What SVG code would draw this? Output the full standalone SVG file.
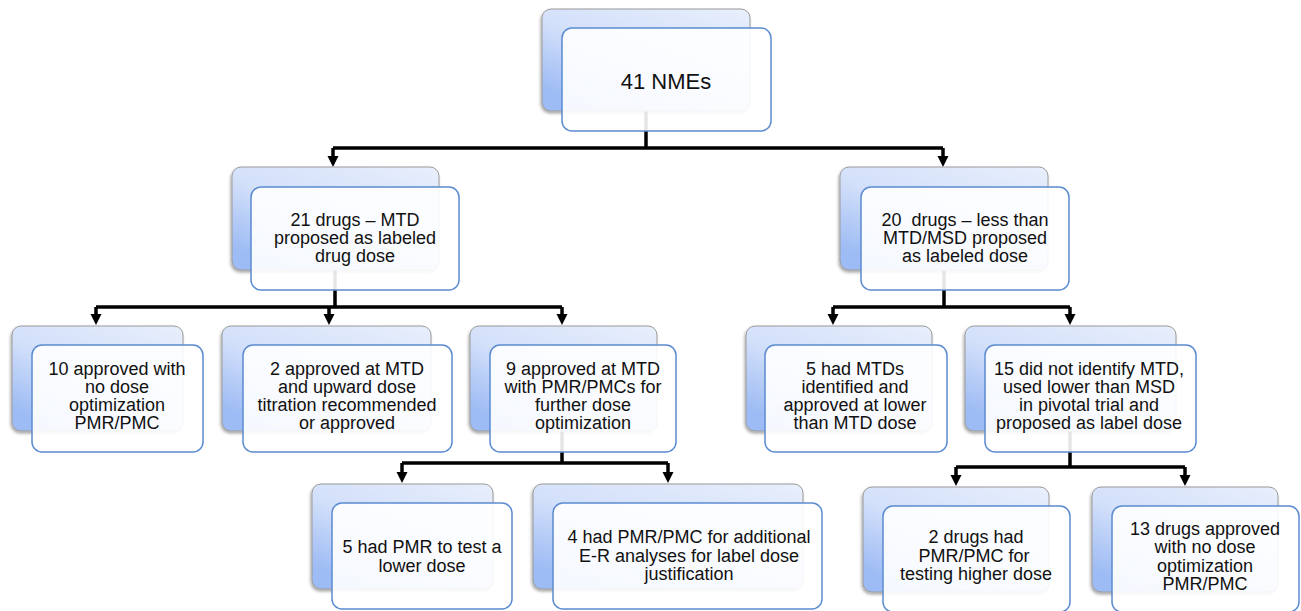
<svg xmlns="http://www.w3.org/2000/svg" width="1301" height="611" viewBox="0 0 1301 611">
<style>
.back{fill:url(#g);stroke:#9a9a9a;stroke-width:1;filter:url(#sh)}
.front{fill:#ffffff;fill-opacity:0.9;stroke:#5b8bd0;stroke-width:1.5}
.t{font-family:"Liberation Sans",Arial,sans-serif;font-size:18px;fill:#111;text-anchor:middle;white-space:pre}
.big{font-size:22px}
.c{fill:none;stroke:#000;stroke-width:3.5}
.a{fill:none;stroke:#000;stroke-width:3.5;marker-end:url(#ah)}
</style>
<defs>
<linearGradient id="g" x1="1" y1="0" x2="0.3" y2="1">
<stop offset="0" stop-color="#e8effc"/>
<stop offset="0.55" stop-color="#d3e0fa"/>
<stop offset="1" stop-color="#9dbbf4"/>
</linearGradient>
<filter id="sh" x="-10%" y="-10%" width="120%" height="130%">
<feDropShadow dx="-1" dy="2" stdDeviation="1.5" flood-color="#000" flood-opacity="0.35"/>
</filter>
<marker id="ah" markerUnits="userSpaceOnUse" markerWidth="12" markerHeight="12" viewBox="0 -6 12 12" refX="1" refY="0" orient="auto">
<path d="M0,-5.5 L11,0 L0,5.5 z" fill="#000"/>
</marker>
</defs>
<rect width="1301" height="611" fill="#fff"/>
<g id="connectors">
<path class="c" d="M646,111 V148"/>
<path class="c" d="M333,148 H943"/>
<path class="a" d="M333,148 V157"/>
<path class="a" d="M943,148 V157"/>
<path class="c" d="M335,270 V307"/>
<path class="c" d="M96,307 H562"/>
<path class="a" d="M96,307 V315"/>
<path class="a" d="M329,307 V315"/>
<path class="a" d="M562,307 V315"/>
<path class="c" d="M944,270 V307"/>
<path class="c" d="M833,307 H1070"/>
<path class="a" d="M833,307 V315"/>
<path class="a" d="M1070,307 V315"/>
<path class="c" d="M562,431 V463"/>
<path class="c" d="M402,463 H668"/>
<path class="a" d="M402,463 V473"/>
<path class="a" d="M668,463 V473"/>
<path class="c" d="M1070,431 V467"/>
<path class="c" d="M956,467 H1185"/>
<path class="a" d="M956,467 V476"/>
<path class="a" d="M1185,467 V476"/>
</g>
<g id="n1">
<rect class="back" x="542" y="9" width="208" height="102" rx="9"/>
<rect class="front" x="562" y="28" width="209" height="103" rx="10"/>
<text class="t big" x="666" y="89">41 NMEs</text>
</g>
<g id="n2">
<rect class="back" x="232" y="167" width="207" height="103" rx="9"/>
<rect class="front" x="251" y="187" width="208" height="103" rx="10"/>
<text class="t" x="355"><tspan x="355" y="226">21 drugs – MTD</tspan><tspan x="355" y="244">proposed as labeled</tspan><tspan x="355" y="262">drug dose</tspan></text>
</g>
<g id="n3">
<rect class="back" x="840" y="167" width="208" height="103" rx="9"/>
<rect class="front" x="861" y="187" width="208" height="103" rx="10"/>
<text class="t" x="965"><tspan x="965" y="226">20  drugs – less than</tspan><tspan x="965" y="244">MTD/MSD proposed</tspan><tspan x="965" y="262">as labeled dose</tspan></text>
</g>
<g id="n4">
<rect class="back" x="12" y="326" width="171" height="105" rx="9"/>
<rect class="front" x="32" y="345" width="171" height="107" rx="10"/>
<text class="t" x="117"><tspan x="117" y="375">10 approved with</tspan><tspan x="117" y="393">no dose</tspan><tspan x="117" y="411">optimization</tspan><tspan x="117" y="429">PMR/PMC</tspan></text>
</g>
<g id="n5">
<rect class="back" x="222" y="326" width="209" height="105" rx="9"/>
<rect class="front" x="243" y="345" width="209" height="107" rx="10"/>
<text class="t" x="347"><tspan x="347" y="375">2 approved at MTD</tspan><tspan x="347" y="393">and upward dose</tspan><tspan x="347" y="411">titration recommended</tspan><tspan x="347" y="429">or approved</tspan></text>
</g>
<g id="n6">
<rect class="back" x="470" y="326" width="187" height="105" rx="9"/>
<rect class="front" x="490" y="345" width="186" height="107" rx="10"/>
<text class="t" x="583"><tspan x="583" y="375">9 approved at MTD</tspan><tspan x="583" y="393">with PMR/PMCs for</tspan><tspan x="583" y="411">further dose</tspan><tspan x="583" y="429">optimization</tspan></text>
</g>
<g id="n7">
<rect class="back" x="746" y="326" width="186" height="105" rx="9"/>
<rect class="front" x="765" y="345" width="182" height="107" rx="10"/>
<text class="t" x="855"><tspan x="855" y="375">5 had MTDs</tspan><tspan x="855" y="393">identified and</tspan><tspan x="855" y="411">approved at lower</tspan><tspan x="855" y="429">than MTD dose</tspan></text>
</g>
<g id="n8">
<rect class="back" x="965" y="326" width="211" height="105" rx="9"/>
<rect class="front" x="985" y="345" width="211" height="107" rx="10"/>
<text class="t" x="1089"><tspan x="1089" y="375">15 did not identify MTD,</tspan><tspan x="1089" y="393">used lower than MSD</tspan><tspan x="1089" y="411">in pivotal trial and</tspan><tspan x="1089" y="429">proposed as label dose</tspan></text>
</g>
<g id="n9">
<rect class="back" x="312" y="484" width="181" height="105" rx="9"/>
<rect class="front" x="332" y="503" width="180" height="106" rx="10"/>
<text class="t" x="422"><tspan x="422" y="553">5 had PMR to test a</tspan><tspan x="422" y="572">lower dose</tspan></text>
</g>
<g id="n10">
<rect class="back" x="533" y="484" width="270" height="105" rx="9"/>
<rect class="front" x="553" y="503" width="269" height="106" rx="10"/>
<text class="t" x="689"><tspan x="689" y="543">4 had PMR/PMC for additional</tspan><tspan x="689" y="562">E-R analyses for label dose</tspan><tspan x="689" y="580">justification</tspan></text>
</g>
<g id="n11">
<rect class="back" x="863" y="487" width="186" height="105" rx="9"/>
<rect class="front" x="883" y="506" width="187" height="106" rx="10"/>
<text class="t" x="975"><tspan x="976" y="543">2 drugs had</tspan><tspan x="974" y="562">PMR/PMC for</tspan><tspan x="976" y="580">testing higher dose</tspan></text>
</g>
<g id="n12">
<rect class="back" x="1092" y="487" width="186" height="105" rx="9"/>
<rect class="front" x="1112" y="506" width="187" height="106" rx="10"/>
<text class="t" x="1205"><tspan x="1205" y="535">13 drugs approved</tspan><tspan x="1205" y="553">with no dose</tspan><tspan x="1205" y="572">optimization</tspan><tspan x="1205" y="590">PMR/PMC</tspan></text>
</g>
</svg>
